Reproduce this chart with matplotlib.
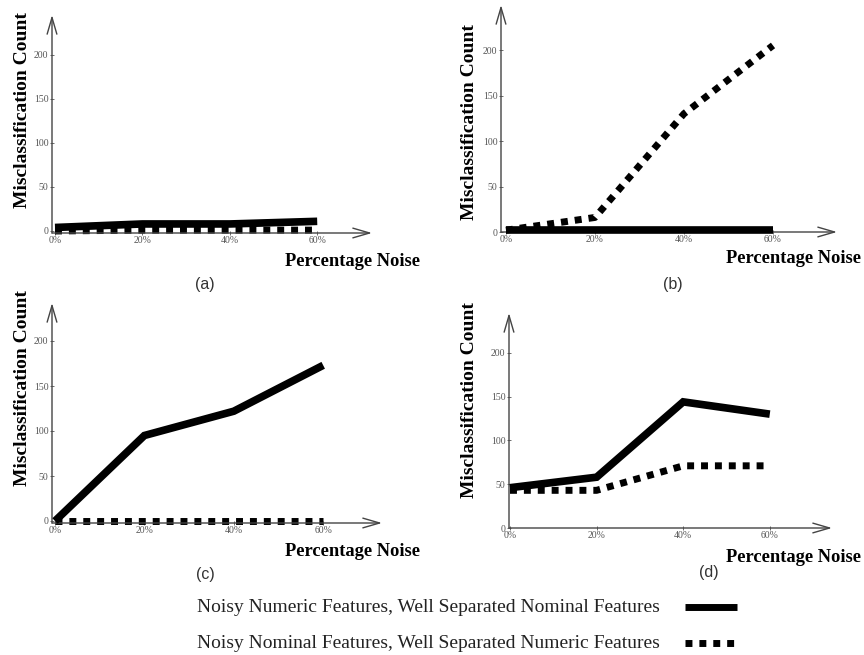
import numpy as np
import matplotlib.pyplot as plt
from matplotlib.lines import Line2D

W, H = 864, 655

noise = [0, 20, 40, 60]
xtick_labels = ['0%', '20%', '40%', '60%']
yticks = [0, 50, 100, 150, 200]

# misclassification counts per panel
numeric_a = [4, 8, 8, 11]
nominal_a = [0, 1, 1, 1]
numeric_b = [2, 2, 2, 2]
nominal_b = [2, 16, 130, 205]
numeric_c = [0, 95, 122, 173]
nominal_c = [0, 0, 0, 0]
numeric_d = [46, 58, 144, 130]
nominal_d = [43, 43, 71, 71]

panel_labels = ['(a)', '(b)', '(c)', '(d)']
legend_labels = ['Noisy Numeric Features, Well Separated Nominal Features',
                 'Noisy Nominal Features, Well Separated Numeric Features']

# layout in pixels: origin x, origin y, px per %, px per count, left, right, top, bottom
layout = [
    (55, 231, 4.37, 0.88, 52, 372, 15, 233),
    (506, 232, 4.45, 0.91, 501, 837, 5, 232),
    (55, 521, 4.47, 0.90, 52, 382, 303, 523),
    (510, 529, 4.33, 0.88, 509, 832, 313, 528),
]
# text positions in pixels: ylabel (x, y), xlabel right edge (x, y), panel label (x, y)
text_pos = [
    ((23, 110), (420, 262), (205, 285)),
    ((470, 122), (861, 258), (673, 285)),
    ((23, 388), (420, 552), (205, 574)),
    ((470, 400), (861, 557), (709, 573)),
]

serif = ['Liberation Serif', 'DejaVu Serif']
fig = plt.figure(figsize=(W / 100, H / 100), dpi=100)

def fx(px):
    return px / W

def fy(py):
    return 1 - py / H

series = [(numeric_a, nominal_a), (numeric_b, nominal_b),
          (numeric_c, nominal_c), (numeric_d, nominal_d)]

for i, ((num, nom), lay, tp) in enumerate(zip(series, layout, text_pos)):
    ox, oy, sx, sy, left, right, top, bottom = lay
    ax = fig.add_axes([fx(left), fy(bottom), (right - left) / W, (bottom - top) / H])
    ax.set_xlim((left - ox) / sx, (right - ox) / sx)
    ax.set_ylim((oy - bottom) / sy, (oy - top) / sy)
    for s in ax.spines.values():
        s.set_visible(False)
    ax.patch.set_alpha(0)

    ax.plot(noise, nom, color='black', lw=5, linestyle=(0, (1, 1)),
            dash_capstyle='butt', clip_on=False, zorder=3)
    ax.plot(noise, num, color='black', lw=5.5, solid_capstyle='butt',
            solid_joinstyle='miter', clip_on=False, zorder=4)

    # axis arrows
    arrow = dict(arrowstyle='->,head_length=1.2,head_width=0.35', color='#444', lw=1,
                 shrinkA=0, shrinkB=0)
    ax.annotate('', xy=(1, 0), xytext=(0, 0), xycoords='axes fraction', arrowprops=arrow)
    ax.annotate('', xy=(0, 1), xytext=(0, 0), xycoords='axes fraction', arrowprops=arrow)

    ax.set_xticks(noise)
    ax.set_xticklabels(xtick_labels)
    ax.set_yticks(yticks)
    ax.tick_params(axis='both', direction='inout', length=3, width=0.6, color='#555',
                   labelsize=7, labelcolor='#555', pad=1)
    for lab in ax.get_xticklabels() + ax.get_yticklabels():
        lab.set_family(serif)

    (ylx, yly), (xlx, xly), (plx, ply) = tp
    fig.text(fx(ylx), fy(yly), 'Misclassification Count', rotation=90, ha='center',
             va='center', family=serif, weight='bold', fontsize=14)
    fig.text(fx(xlx), fy(xly), 'Percentage Noise', ha='right', va='center',
             family=serif, weight='bold', fontsize=13.3)
    fig.text(fx(plx), fy(ply), panel_labels[i], ha='center', va='center',
             family=['Liberation Sans', 'DejaVu Sans'], fontsize=11.5, color='#333')

# legend
for j, (lab, ls) in enumerate(zip(legend_labels, ['-', (0, (1, 1))])):
    ypx = 607 + j * 36
    fig.text(fx(197), fy(ypx), lab, ha='left', va='center', family=serif,
             fontsize=14, color='#222')
    fig.add_artist(Line2D([fx(685), fx(737)], [fy(ypx), fy(ypx)], color='black', lw=5,
                          linestyle=ls, dash_capstyle='butt', solid_capstyle='butt',
                          transform=fig.transFigure))

fig.savefig('out.png', dpi=100)
